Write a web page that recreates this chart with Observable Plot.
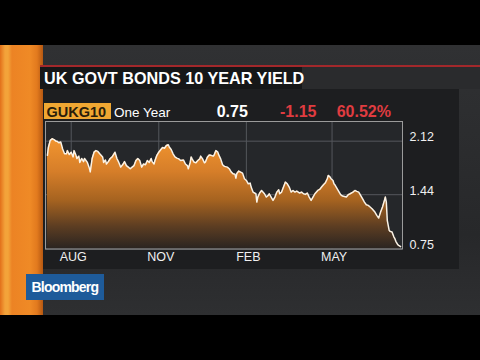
<!DOCTYPE html>
<html><head><meta charset="utf-8">
<script src="https://cdn.jsdelivr.net/npm/d3@7"></script>
<script src="https://cdn.jsdelivr.net/npm/@observablehq/plot@0.6"></script>
<style>
html,body{margin:0;padding:0;background:#000;width:480px;height:360px;overflow:hidden;font-family:"Liberation Sans",Arial,sans-serif;}
.abs{position:absolute;white-space:nowrap;line-height:1;}
#bg{left:0;top:45px;width:480px;height:270px;background:linear-gradient(to bottom,#303133 0%,#2b2c2e 40%,#27282a 70%,#2e2f31 100%);}
#stripe{left:0;top:45px;width:43px;height:270px;background:linear-gradient(to right,#e2701a 0px,#f3a23a 5px,#f3a43a 8px,#ec8324 12px,#ef8a26 30px,#e27a1e 37px,#b55812 43px);}
#red{left:40px;top:65px;width:440px;height:2px;background:#a3282b;}
#titlebar{left:40px;top:67px;width:262px;height:22px;background:#161718;}
#rightbar{left:302px;top:67px;width:178px;height:22px;background:#2a2b2d;}
#panel{left:43px;top:89px;width:416px;height:180px;background:#1d1e20;}
#title{left:44px;top:69.8px;font-size:16.2px;font-weight:bold;color:#fff;}
#tag{left:44px;top:103px;width:67px;height:16px;background:#f0a732;}
#sym{left:46.5px;top:105.4px;font-size:14.5px;font-weight:bold;color:#2a1d0a;}
#period{left:114px;top:106.3px;font-size:13.5px;color:#fff;}
#last{left:216.7px;top:104.2px;font-size:16px;font-weight:bold;color:#fff;}
#chg{left:280px;top:104.2px;font-size:16px;font-weight:bold;color:#e03c40;}
#pct{left:336.7px;top:104.2px;font-size:16px;font-weight:bold;color:#e03c40;}
#chart{left:0;top:110px;}
#logo{left:26px;top:274px;width:78px;height:26px;background:#1e5b9a;}
#logotext{left:31.5px;top:280.4px;font-size:14px;font-weight:bold;letter-spacing:-0.8px;color:#fff;}
</style>
</head><body>
<div id="bg" class="abs"></div>
<div id="stripe" class="abs"></div>
<div id="red" class="abs"></div>
<div id="rightbar" class="abs"></div>
<div id="titlebar" class="abs"></div>
<div id="panel" class="abs"></div>
<div id="title" class="abs"></div>
<div id="tag" class="abs"></div>
<div id="sym" class="abs"></div>
<div id="period" class="abs"></div>
<div id="last" class="abs"></div>
<div id="chg" class="abs"></div>
<div id="pct" class="abs"></div>
<div id="chart" class="abs"></div>
<div id="logo" class="abs"></div>
<div id="logotext" class="abs"></div>
<script>
const titleText = "UK GOVT BONDS 10 YEAR YIELD";
const symbol = "GUKG10";
const period = "One Year";
const lastValue = "0.75";
const netChange = "-1.15";
const pctChange = "60.52%";
const brand = "Bloomberg";

const yTicks = [0.75, 1.44, 2.12];
const xTicks = ["2015-08-01","2015-11-01","2016-02-01","2016-05-01"];
const xTickLabels = ["AUG","NOV","FEB","MAY"];

const dates = [
"2015-07-07","2015-07-08","2015-07-10","2015-07-12","2015-07-14","2015-07-16","2015-07-17","2015-07-19","2015-07-21","2015-07-23","2015-07-25","2015-07-27","2015-07-28","2015-07-30",
"2015-08-01","2015-08-03","2015-08-04","2015-08-06","2015-08-07","2015-08-09","2015-08-10","2015-08-12","2015-08-14","2015-08-15","2015-08-18","2015-08-20","2015-08-21","2015-08-23","2015-08-25","2015-08-27","2015-08-29","2015-08-31",
"2015-09-03","2015-09-04","2015-09-06","2015-09-07","2015-09-09","2015-09-11","2015-09-13","2015-09-15","2015-09-16","2015-09-18","2015-09-20","2015-09-22","2015-09-24","2015-09-26","2015-09-28","2015-09-30",
"2015-10-02","2015-10-04","2015-10-06","2015-10-08","2015-10-10","2015-10-12","2015-10-14","2015-10-16","2015-10-18","2015-10-20","2015-10-22","2015-10-24","2015-10-25","2015-10-27","2015-10-28","2015-10-30",
"2015-11-01","2015-11-03","2015-11-05","2015-11-07","2015-11-09","2015-11-11","2015-11-12","2015-11-14","2015-11-16","2015-11-18","2015-11-20","2015-11-22","2015-11-24","2015-11-27","2015-11-29",
"2015-12-01","2015-12-02","2015-12-04","2015-12-05","2015-12-06","2015-12-08","2015-12-10","2015-12-12","2015-12-14","2015-12-15","2015-12-17","2015-12-19","2015-12-20","2015-12-22","2015-12-24","2015-12-26","2015-12-28","2015-12-29","2015-12-31",
"2016-01-02","2016-01-03","2016-01-05","2016-01-07","2016-01-09","2016-01-12","2016-01-14","2016-01-16","2016-01-18","2016-01-20","2016-01-21","2016-01-22","2016-01-24","2016-01-26","2016-01-28","2016-01-30",
"2016-02-01","2016-02-03","2016-02-05","2016-02-06","2016-02-08","2016-02-11","2016-02-12","2016-02-13","2016-02-15","2016-02-17","2016-02-20","2016-02-22","2016-02-24","2016-02-25","2016-02-27","2016-02-29",
"2016-03-02","2016-03-04","2016-03-06","2016-03-07","2016-03-09","2016-03-11","2016-03-13","2016-03-15","2016-03-17","2016-03-19","2016-03-21","2016-03-23","2016-03-25","2016-03-28","2016-03-30",
"2016-04-01","2016-04-03","2016-04-05","2016-04-07","2016-04-09","2016-04-11","2016-04-13","2016-04-16","2016-04-18","2016-04-20","2016-04-22","2016-04-24","2016-04-26","2016-04-27","2016-04-29","2016-04-30",
"2016-05-02","2016-05-03","2016-05-04","2016-05-06","2016-05-08","2016-05-10","2016-05-12","2016-05-14","2016-05-16","2016-05-18","2016-05-20","2016-05-23","2016-05-25","2016-05-27","2016-05-29","2016-05-31",
"2016-06-02","2016-06-04","2016-06-06","2016-06-08","2016-06-10","2016-06-12","2016-06-15","2016-06-17","2016-06-19","2016-06-21","2016-06-23","2016-06-25","2016-06-26","2016-06-27","2016-06-28","2016-06-30",
"2016-07-01","2016-07-03","2016-07-05","2016-07-06","2016-07-07","2016-07-09","2016-07-10","2016-07-12"
];
const yields = [
1.94,2.04,2.13,2.15,2.14,2.12,2.12,2.10,2.11,2.02,1.96,1.96,2.00,1.95,
1.98,1.92,2.00,1.94,1.90,1.93,1.85,1.90,1.86,1.90,1.85,1.78,1.73,1.90,1.98,2.00,1.99,1.96,
1.92,1.85,1.88,1.83,1.86,1.90,1.92,1.96,1.98,1.90,1.85,1.79,1.82,1.86,1.81,1.79,
1.77,1.79,1.81,1.875,1.90,1.875,1.79,1.83,1.82,1.875,1.85,1.90,1.86,1.83,1.875,1.94,
1.98,2.01,2.04,2.03,2.065,2.075,2.045,2.015,1.96,1.92,1.905,1.895,1.875,1.88,1.83,
1.81,1.77,1.85,1.92,1.895,1.855,1.845,1.875,1.895,1.93,1.895,1.845,1.855,1.915,1.945,1.94,1.93,1.94,2.00,
1.98,1.945,1.895,1.82,1.80,1.79,1.77,1.73,1.705,1.70,1.65,1.71,1.74,1.727,1.714,1.642,
1.621,1.579,1.587,1.537,1.473,1.452,1.346,1.41,1.461,1.494,1.452,1.41,1.431,1.452,1.41,1.367,
1.41,1.473,1.503,1.452,1.473,1.537,1.60,1.579,1.537,1.473,1.494,1.473,1.486,1.461,1.473,
1.452,1.444,1.461,1.41,1.367,1.41,1.452,1.494,1.507,1.537,1.566,1.592,1.642,1.685,1.664,1.642,
1.621,1.579,1.566,1.524,1.482,1.44,1.423,1.418,1.41,1.44,1.452,1.473,1.494,1.482,1.473,1.431,
1.389,1.346,1.312,1.304,1.283,1.262,1.219,1.177,1.143,1.219,1.283,1.367,1.41,1.346,1.114,0.987,
0.974,0.966,0.902,0.881,0.847,0.805,0.796,0.78
];

document.getElementById("title").textContent = titleText;
document.getElementById("sym").textContent = symbol;
document.getElementById("period").textContent = period;
document.getElementById("last").textContent = lastValue;
document.getElementById("chg").textContent = netChange;
document.getElementById("pct").textContent = pctChange;
document.getElementById("logotext").textContent = brand;

const data = dates.map((d, i) => ({date: new Date(d), yield: yields[i]}));
const xT = xTicks.map(d => new Date(d));

const defsMark = () => {
  const ns = "http://www.w3.org/2000/svg";
  const defs = document.createElementNS(ns, "defs");
  const g = document.createElementNS(ns, "linearGradient");
  g.setAttribute("id", "ukGrad");
  g.setAttribute("x1", "0"); g.setAttribute("y1", "0");
  g.setAttribute("x2", "0"); g.setAttribute("y2", "1");
  [["0", "#f2952f"], ["0.3", "#d67e29"], ["0.56", "#a66320"], ["0.8", "#5c3d22"], ["1", "#2a2421"]].forEach(([o, c]) => {
    const s = document.createElementNS(ns, "stop");
    s.setAttribute("offset", o); s.setAttribute("stop-color", c);
    g.appendChild(s);
  });
  defs.appendChild(g);
  return defs;
};

const chart = Plot.plot({
  width: 480, height: 160,
  marginLeft: 45, marginRight: 78, marginTop: 11, marginBottom: 21.5,
  style: {background: "transparent", color: "#f2f2f2", fontFamily: '"Liberation Sans", Arial, sans-serif', fontSize: "12.5px", overflow: "visible"},
  x: {type: "utc", domain: [new Date("2015-07-05"), new Date("2016-07-14")]},
  y: {domain: [0.75, 2.37]},
  marks: [
    defsMark,
    Plot.frame({fill: "#25272a", stroke: null}),
    Plot.ruleY(yTicks, {stroke: "#54575c", strokeWidth: 1}),
    Plot.ruleX(xT, {stroke: "#54575c", strokeWidth: 1}),
    Plot.areaY(data, {x: "date", y1: yTicks[0], y2: "yield", fill: "url(#ukGrad)"}),
    Plot.lineY(data, {x: "date", y: "yield", stroke: "#fbf3e6", strokeWidth: 1.5}),
    Plot.frame({stroke: "#9b9b9b"}),
    Plot.axisX(xT, {label: null, tickSize: 0, tickPadding: 3, dx: 2, fill: "#f0f0f0",
      tickFormat: d => xTickLabels[xT.findIndex(t => +t === +d)]}),
    Plot.axisY(yTicks, {label: null, anchor: "right", tickSize: 0, tickPadding: 7, dy: -4, fill: "#f0f0f0",
      tickFormat: d => d.toFixed(2)})
  ]
});
document.getElementById("chart").appendChild(chart);
</script>
</body></html>
